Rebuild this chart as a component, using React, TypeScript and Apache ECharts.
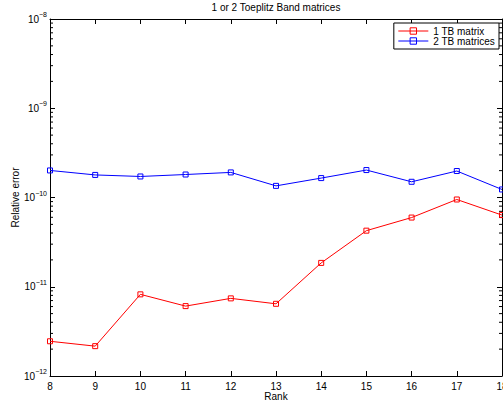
import React, { useEffect, useRef } from "react";
import * as echarts from "echarts";

const ranks = [8, 9, 10, 11, 12, 13, 14, 15, 16, 17, 18];
const oneTB = [2.45e-12, 2.16e-12, 8.22e-12, 6.07e-12, 7.41e-12, 6.44e-12, 1.85e-11, 4.25e-11, 5.96e-11, 9.5e-11, 6.35e-11];
const twoTB = [2.01e-10, 1.79e-10, 1.72e-10, 1.81e-10, 1.91e-10, 1.35e-10, 1.65e-10, 2.03e-10, 1.5e-10, 1.98e-10, 1.23e-10];
const seriesNames = ["1 TB matrix", "2 TB matrices"];
const decades = [-12, -11, -10, -9];
const minorMultipliers = [2, 3, 4, 5, 6, 7, 8, 9];

const FONT = "Liberation Sans, Arial, Helvetica, sans-serif";

export default function App() {
  const ref = useRef<HTMLDivElement>(null);
  useEffect(() => {
    document.body.style.margin = "0";
    const chart = echarts.init(ref.current!, null, { renderer: "svg" });
    const minorVals: number[][] = [];
    decades.forEach((d) => minorMultipliers.forEach((m) => minorVals.push([8, m * Math.pow(10, d)])));
    const yMin = 1e-12;
    const yMax = 1e-8;
    const xMin = ranks[0];
    const xMax = ranks[ranks.length - 1];
    const axisLine = { show: true, lineStyle: { color: "#000", width: 1 } };
    const lineSeries = (name: string, vals: number[], color: string) => ({
      name,
      type: "line",
      data: ranks.map((r, i) => [r, vals[i]]),
      symbol: "rect",
      symbolSize: 5,
      color,
      itemStyle: { color: "rgba(255,255,255,0)", borderColor: color, borderWidth: 1 },
      lineStyle: { color, width: 1 },
      clip: false,
    });
    chart.setOption({
      animation: false,
      backgroundColor: "#fff",
      title: {
        text: "1 or 2 Toeplitz Band matrices",
        left: 276,
        top: 2,
        padding: 0,
        textAlign: "center",
        textStyle: { fontSize: 10, fontWeight: "normal", color: "#000", fontFamily: FONT },
      },
      legend: {
        orient: "vertical",
        right: 4,
        top: 23,
        padding: [3, 4, 3, 4],
        itemGap: 0,
        itemWidth: 30,
        itemHeight: 8,
        borderColor: "#000",
        borderWidth: 1,
        backgroundColor: "#fff",
        data: seriesNames,
        lineStyle: { width: 1 },
        itemStyle: { borderWidth: 1 },
        textStyle: { fontSize: 10, color: "#000", fontFamily: FONT, padding: [0, 0, 0, 0] },
      },
      grid: { left: 50, right: 1, top: 19, bottom: 29, containLabel: false, outerBoundsMode: "none" },
      xAxis: [
        {
          type: "value",
          min: xMin,
          max: xMax,
          interval: 1,
          position: "bottom",
          name: "Rank",
          nameLocation: "middle",
          nameGap: 15,
          nameMoveOverlap: false,
          nameTextStyle: { fontSize: 10, color: "#000", fontFamily: FONT },
          axisLine,
          axisTick: { show: true, inside: true, length: 5, lineStyle: { color: "#000" } },
          axisLabel: { fontSize: 10, color: "#000", fontFamily: FONT, margin: 5 },
          splitLine: { show: false },
        },
        {
          type: "value",
          min: xMin,
          max: xMax,
          interval: 1,
          position: "top",
          axisLine,
          axisTick: { show: true, inside: true, length: 5, lineStyle: { color: "#000" } },
          axisLabel: { show: false },
          splitLine: { show: false },
        },
      ],
      yAxis: [
        {
          type: "log",
          logBase: 10,
          min: yMin,
          max: yMax,
          position: "left",
          name: "Relative error",
          nameLocation: "middle",
          nameGap: 30,
          nameMoveOverlap: false,
          nameTextStyle: { fontSize: 10, color: "#000", fontFamily: FONT },
          axisLine,
          axisTick: { show: true, inside: true, length: 5, lineStyle: { color: "#000" } },
          axisLabel: {
            margin: 3,
            formatter: (v: number) => {
              const e = Math.round(Math.log10(v));
              return `{b|10}{s|\u2212${-e}}`;
            },
            rich: {
              b: { fontSize: 10, color: "#000", fontFamily: FONT, lineHeight: 16 },
              s: { fontSize: 7, color: "#000", fontFamily: FONT, verticalAlign: "top", lineHeight: 8 },
            },
          },
          splitLine: { show: false },
        },
        {
          type: "log",
          logBase: 10,
          min: yMin,
          max: yMax,
          position: "right",
          axisLine,
          axisTick: { show: true, inside: true, length: 5, lineStyle: { color: "#000" } },
          axisLabel: { show: false },
          splitLine: { show: false },
        },
      ],
      series: [
        lineSeries(seriesNames[0], oneTB, "#ff0000"),
        lineSeries(seriesNames[1], twoTB, "#0000ff"),
        {
          type: "custom",
          silent: true,
          clip: false,
          encode: { x: 0, y: 1 },
          data: minorVals,
          renderItem: (params: any, api: any) => {
            const v = api.value(1);
            const p1 = api.coord([xMin, v]);
            const p2 = api.coord([xMax, v]);
            const style = { stroke: "#000", lineWidth: 1 };
            return {
              type: "group",
              children: [
                { type: "line", shape: { x1: p1[0], y1: p1[1], x2: p1[0] + 3, y2: p1[1] }, style },
                { type: "line", shape: { x1: p2[0], y1: p2[1], x2: p2[0] - 3, y2: p2[1] }, style },
              ],
            };
          },
        },
      ],
    });
    return () => chart.dispose();
  }, []);
  return <div ref={ref} style={{ position: "absolute", left: 0, top: 0, width: 503, height: 405 }} />;
}
